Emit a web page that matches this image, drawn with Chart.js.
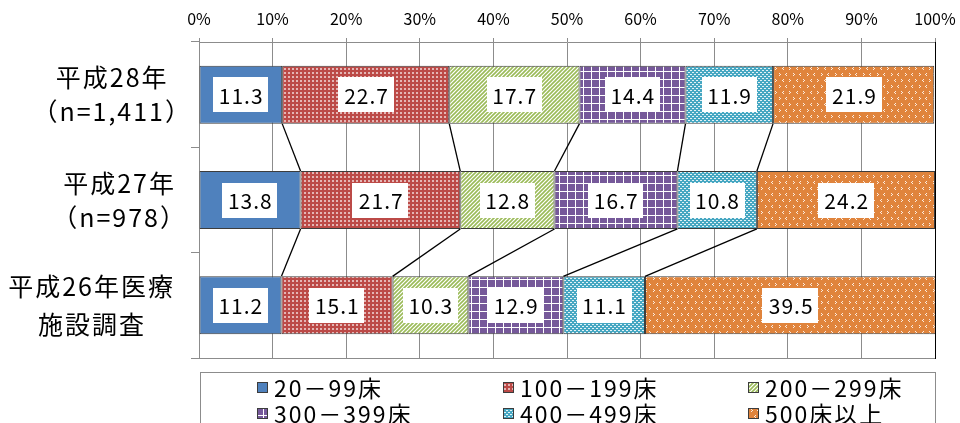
<!DOCTYPE html>
<html>
<head>
<meta charset="utf-8">
<script src="https://cdn.jsdelivr.net/npm/chart.js@4"></script>
<style>
  html, body { margin: 0; padding: 0; background: #fff; }
  #wrap { width: 960px; height: 423px; position: relative; }
</style>
</head>
<body>
<div id="wrap"><canvas id="c" width="960" height="423"></canvas></div>
<script>
// Survey groups (rows) and bed-size categories (stacked segments), in %
const surveyLabels = [
  ['平成28年', '（n=1,411）'],
  ['平成27年', '（n=978）'],
  ['平成26年医療', '施設調査']
];
const bedLabels = ['20－99床', '100－199床', '200－299床', '300－399床', '400－499床', '500床以上'];

const beds20to99   = [11.3, 13.8, 11.2];
const beds100to199 = [22.7, 21.7, 15.1];
const beds200to299 = [17.7, 12.8, 10.3];
const beds300to399 = [14.4, 16.7, 12.9];
const beds400to499 = [11.9, 10.8, 11.1];
const beds500plus  = [21.9, 24.2, 39.5];

const xTicks = [0, 10, 20, 30, 40, 50, 60, 70, 80, 90, 100];

const FONT = '"Noto Sans CJK JP", "Noto Sans", sans-serif';

const canvas = document.getElementById('c');
const ctx = canvas.getContext('2d');

function tile(w, h, draw) {
  const t = document.createElement('canvas');
  t.width = w; t.height = h;
  const g = t.getContext('2d');
  draw(g);
  return ctx.createPattern(t, 'repeat');
}

// fill patterns for each bed-size band
const fills = [
  '#4F81BD',
  tile(4, 4, g => {
    g.fillStyle = '#BC4A47'; g.fillRect(0, 0, 4, 4);
    g.fillStyle = 'rgba(255,255,255,0.6)'; g.fillRect(0, 0, 2, 2);
  }),
  tile(4, 4, g => {
    g.fillStyle = '#fff'; g.fillRect(0, 0, 4, 4);
    g.strokeStyle = '#9BBB59'; g.lineWidth = 1.6;
    g.beginPath();
    g.moveTo(-1, 5); g.lineTo(5, -1);
    g.moveTo(-3, 3); g.lineTo(3, -3);
    g.moveTo(1, 7); g.lineTo(7, 1);
    g.stroke();
  }),
  tile(8, 8, g => {
    g.fillStyle = '#76599A'; g.fillRect(0, 0, 8, 8);
    g.fillStyle = '#fff'; g.fillRect(7, 0, 1, 8); g.fillRect(0, 7, 8, 1);
  }),
  tile(4, 4, g => {
    g.fillStyle = '#46A7C2'; g.fillRect(0, 0, 4, 4);
    g.fillStyle = 'rgba(255,255,255,0.85)';
    g.fillRect(0, 0, 2, 1); g.fillRect(2, 2, 2, 1);
  }),
  tile(14, 12, g => {
    g.fillStyle = '#E0843C'; g.fillRect(0, 0, 14, 12);
    g.fillStyle = 'rgba(255,255,255,0.85)';
    g.fillRect(2, 1, 1, 1); g.fillRect(1, 2, 1, 1); g.fillRect(2, 3, 1, 1);
    g.fillRect(9, 1, 1, 1); g.fillRect(10, 2, 1, 1); g.fillRect(9, 3, 1, 1);
    g.fillRect(5, 7, 1, 1); g.fillRect(6, 8, 1, 1); g.fillRect(5, 9, 1, 1);
    g.fillRect(13, 7, 1, 1); g.fillRect(12, 8, 1, 1); g.fillRect(13, 9, 1, 1);
  })
];

const seriesValues = [beds20to99, beds100to199, beds200to299, beds300to399, beds400to499, beds500plus];

const datasets = seriesValues.map((vals, i) => ({
  label: bedLabels[i],
  data: vals,
  backgroundColor: fills[i],
  borderColor: '#3c3c3c',
  borderWidth: 1,
  borderSkipped: false,
  barPercentage: 0.55,
  categoryPercentage: 1.0
}));

// lines joining segment boundaries of consecutive rows
const connectorPlugin = {
  id: 'connectors',
  afterDatasetsDraw(chart) {
    const c = chart.ctx;
    const xs = chart.scales.x;
    const metas = chart.data.datasets.map((d, i) => chart.getDatasetMeta(i));
    c.save();
    c.strokeStyle = '#000';
    c.lineWidth = 1.3;
    for (let r = 0; r < surveyLabels.length - 1; r++) {
      let cumA = 0, cumB = 0;
      for (let k = 0; k < seriesValues.length - 1; k++) {
        cumA += seriesValues[k][r];
        cumB += seriesValues[k][r + 1];
        const barA = metas[k].data[r];
        const barB = metas[k].data[r + 1];
        const yA = barA.y + barA.height / 2;
        const yB = barB.y - barB.height / 2;
        c.beginPath();
        c.moveTo(xs.getPixelForValue(cumA), yA);
        c.lineTo(xs.getPixelForValue(cumB), yB);
        c.stroke();
      }
    }
    c.restore();
  }
};

// white value boxes inside every segment
const valueLabelPlugin = {
  id: 'valueLabels',
  afterDatasetsDraw(chart) {
    const c = chart.ctx;
    c.save();
    c.font = '21px ' + FONT;
    c.letterSpacing = '1px';
    c.textAlign = 'left';
    c.textBaseline = 'middle';
    chart.data.datasets.forEach((ds, i) => {
      chart.getDatasetMeta(i).data.forEach((bar, j) => {
        const txt = ds.data[j].toFixed(1);
        const cx = (bar.x + bar.base) / 2;
        const cy = bar.y;
        const m = c.measureText(txt);
        const ink = m.actualBoundingBoxLeft + m.actualBoundingBoxRight;
        const w = ink + 13;
        const h = 35;
        c.fillStyle = '#fff';
        c.fillRect(Math.round(cx - w / 2), Math.round(cy - h / 2), Math.round(w), h);
        c.fillStyle = '#000';
        c.fillText(txt, cx - ink / 2 + m.actualBoundingBoxLeft, cy + 1);
      });
    });
    c.restore();
  }
};

// frame: bottom and right edges of the plot, category labels, legend box
const framePlugin = {
  id: 'frame',
  afterDraw(chart) {
    const c = chart.ctx;
    const a = chart.chartArea;
    const ys = chart.scales.y;
    c.save();
    c.lineWidth = 1;
    c.strokeStyle = '#8c8c8c';
    c.beginPath();
    c.moveTo(a.left - 8, Math.round(a.bottom) + 0.5);
    c.lineTo(a.right, Math.round(a.bottom) + 0.5);
    c.stroke();
    c.strokeStyle = '#000';
    c.beginPath();
    c.moveTo(Math.round(a.right) + 0.5, a.top);
    c.lineTo(Math.round(a.right) + 0.5, a.bottom + 1);
    c.stroke();

    // category labels: block right-aligned, lines centred inside the block
    c.font = '25px ' + FONT;
    c.letterSpacing = '2px';
    c.fillStyle = '#000';
    c.textAlign = 'left';
    c.textBaseline = 'middle';
    const rightEdge = 173;
    surveyLabels.forEach((lines, i) => {
      const cy = ys.getPixelForValue(i);
      const ms = lines.map(l => c.measureText(l));
      const inks = ms.map(m => m.actualBoundingBoxLeft + m.actualBoundingBoxRight);
      const maxW = Math.max(...inks);
      const cx = rightEdge - maxW / 2;
      const lh = i === 2 ? 38 : 34;
      lines.forEach((l, k) => {
        const x = cx - inks[k] / 2 + ms[k].actualBoundingBoxLeft;
        c.fillText(l, x, cy + (k - (lines.length - 1) / 2) * lh);
      });
    });

    // legend
    const boxL = Math.round(a.left) + 1.5, boxT = 372.5, boxR = Math.round(a.right) + 0.5;
    c.letterSpacing = '0px';
    c.strokeStyle = '#8c8c8c';
    c.strokeRect(boxL, boxT, boxR - boxL, 80);
    c.font = '23px ' + FONT;
    c.letterSpacing = '2px';
    c.textAlign = 'left';
    const colX = [257, 503, 748];
    const rowY = [387, 413];
    chart.data.datasets.forEach((ds, i) => {
      const x = colX[i % 3], y = rowY[Math.floor(i / 3)];
      c.fillStyle = ds.backgroundColor;
      c.fillRect(x, y - 5, 11, 11);
      c.strokeStyle = '#3c3c3c';
      c.strokeRect(x + 0.5, y - 4.5, 10, 10);
      c.fillStyle = '#000';
      c.fillText(ds.label, x + 17, y + 1);
    });
    c.restore();
  }
};

new Chart(ctx, {
  type: 'bar',
  data: { labels: surveyLabels.map(l => l.join(' ')), datasets },
  options: {
    indexAxis: 'y',
    responsive: false,
    animation: false,
    layout: { padding: { left: 0, right: 25, top: 0, bottom: 65 } },
    plugins: { legend: { display: false }, tooltip: { enabled: false } },
    scales: {
      x: {
        position: 'top',
        stacked: true,
        min: 0,
        max: 100,
        afterBuildTicks(s) { s.ticks = xTicks.map(v => ({ value: v })); },
        afterFit(s) { s.height = 42; s.paddingLeft = 0; s.paddingRight = 0; },
        ticks: {
          padding: 9,
          color: '#000',
          font: { family: FONT, size: 16 },
          callback: v => v + '%'
        },
        grid: { color: '#8c8c8c', lineWidth: 1, tickLength: 4 },
        border: { color: '#8c8c8c' }
      },
      y: {
        stacked: true,
        afterFit(s) { s.width = 199; },
        ticks: { display: false },
        grid: { offset: true, drawOnChartArea: false, tickLength: 8, color: '#8c8c8c' },
        border: { color: '#8c8c8c' }
      }
    }
  },
  plugins: [connectorPlugin, valueLabelPlugin, framePlugin]
});
</script>
</body>
</html>
